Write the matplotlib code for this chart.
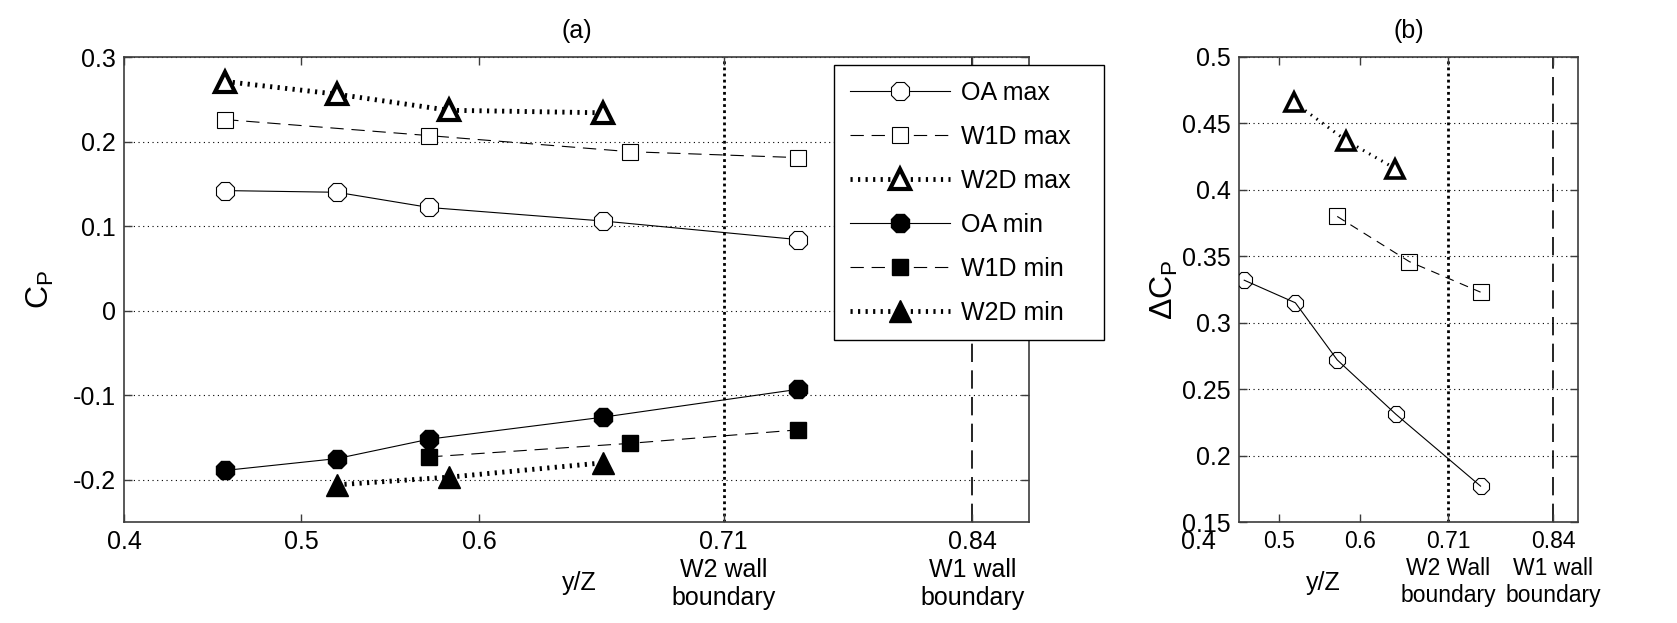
import numpy as np
import matplotlib
matplotlib.use('Agg')
import matplotlib.pyplot as plt

plt.rcParams['font.family'] = ['Liberation Sans', 'DejaVu Sans']
plt.rcParams['font.size'] = 18
plt.rcParams['mathtext.fontset'] = 'custom'
plt.rcParams['mathtext.rm'] = 'Liberation Sans'
plt.rcParams['axes.unicode_minus'] = False

# ---- panel (a): Cp along y/Z (x positions) ----
x_oa_a = [0.457, 0.520, 0.572, 0.670, 0.780]
x_w1d_a = [0.457, 0.572, 0.685, 0.780]
x_w1d_min_a = [0.572, 0.685, 0.780]
x_w2d_a = [0.457, 0.520, 0.583, 0.670]
x_w2d_min_a = [0.520, 0.583, 0.670]

oa_max = [0.142, 0.140, 0.122, 0.106, 0.084]
w1d_max = [0.226, 0.207, 0.188, 0.181]
w2d_max = [0.271, 0.256, 0.237, 0.234]
oa_min = [-0.189, -0.175, -0.152, -0.126, -0.093]
w1d_min = [-0.173, -0.157, -0.141]
w2d_min = [-0.206, -0.197, -0.180]

xticks_a = [0.4, 0.5, 0.6, 0.738, 0.878]
xticklabels_a = ['0.4', '0.5', '0.6', '0.71\nW2 wall\nboundary', '0.84\nW1 wall\nboundary']
yticks_a = [-0.2, -0.1, 0, 0.1, 0.2, 0.3]
yticklabels_a = ['-0.2', '-0.1', '0', '0.1', '0.2', '0.3']

# ---- panel (b): delta Cp ----
x_oa_b = [0.4565, 0.520, 0.572, 0.645, 0.750]
x_w1d_b = [0.572, 0.6615, 0.750]
x_w2d_b = [0.518, 0.5835, 0.644]
d_oa = [0.332, 0.315, 0.272, 0.231, 0.177]
d_w1d = [0.380, 0.346, 0.323]
d_w2d = [0.466, 0.437, 0.416]

xticks_b = [0.5, 0.6, 0.71, 0.84]
xticklabels_b = ['0.5', '0.6', '0.71\nW2 Wall\nboundary', '0.84\nW1 wall\nboundary']
yticks_b = [0.15, 0.2, 0.25, 0.3, 0.35, 0.4, 0.45, 0.5]
yticklabels_b = ['0.15', '0.2', '0.25', '0.3', '0.35', '0.4', '0.45', '0.5']

spine_col = '#3c3c3c'
W, H = 1677, 623
fs = 18

fig = plt.figure(figsize=(W / 100, H / 100), dpi=100)
ax1 = fig.add_axes([124 / W, 101 / H, 905 / W, 465 / H])
ax2 = fig.add_axes([1239 / W, 101 / H, 339 / W, 465 / H])

dash_style = (0, (12, 7))
dot_style = (0, (0.45, 1.1))
grid_style = (0, (1, 3.2))

# panel (a)
for yv in yticks_a:
    ax1.axhline(yv, color='black', lw=0.8, ls=grid_style, zorder=1)
ax1.axvline(0.738, color='black', lw=2, ls=(0, (1, 1.2)), zorder=1)
ax1.axvline(0.878, color='black', lw=1.2, ls=(0, (11, 5)), zorder=1)

ax1.plot(x_oa_a, oa_max, color='black', lw=0.8, marker='8', ms=14, mfc='white', mec='black', mew=0.8, label='OA max', zorder=3)
ax1.plot(x_w1d_a, w1d_max, color='black', lw=0.8, ls=dash_style, marker='s', ms=12, mfc='white', mec='black', mew=0.8, label='W1D max', zorder=3)
ax1.plot(x_w2d_a, w2d_max, color='black', lw=3.5, ls=dot_style, dash_capstyle='butt', marker='^', ms=14, mfc='white', mec='black', mew=3, label='W2D max', zorder=3)
ax1.plot(x_oa_a, oa_min, color='black', lw=0.8, marker='8', ms=14, mfc='black', mec='black', label='OA min', zorder=3)
ax1.plot(x_w1d_min_a, w1d_min, color='black', lw=0.8, ls=dash_style, marker='s', ms=12, mfc='black', mec='black', label='W1D min', zorder=3)
ax1.plot(x_w2d_min_a, w2d_min, color='black', lw=3.5, ls=dot_style, dash_capstyle='butt', marker='^', ms=16, mfc='black', mec='black', label='W2D min', zorder=3)

ax1.set_xlim(0.4, 0.91)
ax1.set_ylim(-0.25, 0.3)
ax1.set_xticks(xticks_a)
ax1.set_xticklabels(xticklabels_a)
ax1.set_yticks(yticks_a)
ax1.set_yticklabels(yticklabels_a)
ax1.set_title('(a)', fontsize=fs, pad=14)
ax1.set_ylabel(r'C$_\mathrm{P}$', fontsize=23)
ax1.yaxis.set_label_coords(-0.075, 0.5)
ax1.set_xlabel('y/Z', fontsize=fs)
ax1.xaxis.set_label_coords(0.503, -0.131)
ax1.xaxis.label.set_va('center')

leg = ax1.legend(loc='upper left', bbox_to_anchor=(834 / W, 1 - 65 / H - 0.01, 270 / W, 0.01),
                 bbox_transform=fig.transFigure, mode='expand', borderaxespad=0,
                 fancybox=False, framealpha=1, edgecolor='black', fontsize=fs,
                 handlelength=4.0, handletextpad=0.45, labelspacing=0.8, borderpad=0.62)
leg.get_frame().set_linewidth(1.0)
leg.set_zorder(5)

# panel (b)
for yv in yticks_b:
    ax2.axhline(yv, color='black', lw=0.8, ls=grid_style, zorder=1)
ax2.axvline(0.71, color='black', lw=2, ls=(0, (1, 1.2)), zorder=1)
ax2.axvline(0.84, color='black', lw=1.2, ls=(0, (11, 5)), zorder=1)

ax2.plot(x_oa_b, d_oa, color='black', lw=0.8, marker='8', ms=13, mfc='none', mec='black', mew=0.8, zorder=3)
ax2.plot(x_w1d_b, d_w1d, color='black', lw=0.8, ls=(0, (8, 6)), marker='s', ms=11, mfc='none', mec='black', mew=0.8, zorder=3)
ax2.plot(x_w2d_b, d_w2d, color='black', lw=2.2, ls=(0, (0.5, 1.8)), dash_capstyle='butt', marker='^', ms=13, mfc='white', mec='black', mew=2.6, zorder=3)

ax2.set_xlim(0.45, 0.871)
ax2.set_ylim(0.15, 0.5)
ax2.set_xticks(xticks_b)
ax2.set_xticklabels(xticklabels_b, fontsize=16.5)
ax2.set_yticks(yticks_b)
ax2.set_yticklabels(yticklabels_b)
ax2.set_title('(b)', fontsize=fs, pad=14)
ax2.set_ylabel('\u0394C$_\\mathrm{P}$', fontsize=23)
ax2.yaxis.set_label_coords(-0.175, 0.5)
ax2.set_xlabel('y/Z', fontsize=fs)
ax2.xaxis.set_label_coords(0.248, -0.131)
ax2.xaxis.label.set_va('center')
# stray 0.4 label outside the left edge, as in the original
ax2.annotate('0.4', xy=(0.4, 0), xycoords=('data', 'axes fraction'), xytext=(0, -6),
             textcoords='offset points', ha='center', va='top', fontsize=fs, annotation_clip=False)

for ax in (ax1, ax2):
    ax.tick_params(axis='both', direction='in', top=True, right=True, length=6, width=1,
                   color=spine_col, pad=6)
    ax.tick_params(axis='y', labelsize=fs)
    for s in ax.spines.values():
        s.set_color(spine_col)
        s.set_linewidth(1.2)
ax1.tick_params(axis='x', labelsize=fs)

fig.savefig('out.png', dpi=100)
